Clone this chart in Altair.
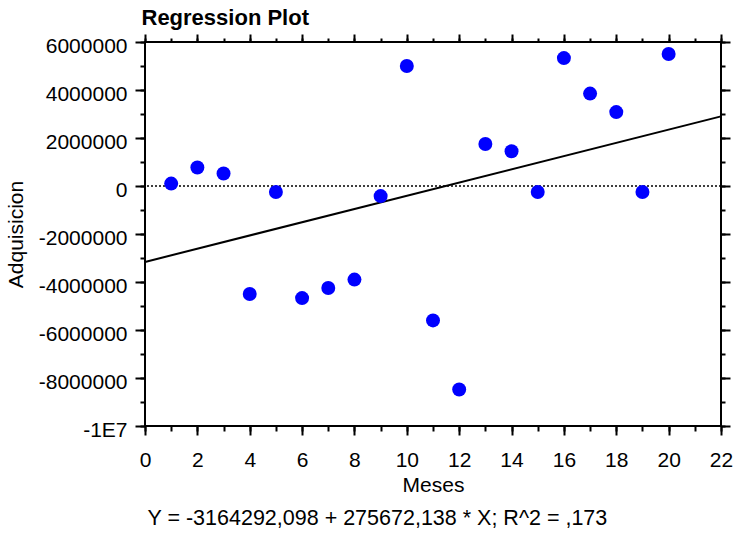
import altair as alt
import pandas as pd

# ---- data ----
meses = [1, 2, 3, 4, 5, 6, 7, 8, 9, 10, 11, 12, 13, 14, 15, 16, 17, 18, 19, 20]
adquisicion = [100000, 770000, 520000, -4500000, -250000, -4670000, -4250000,
               -3900000, -420000, 5000000, -5600000, -8480000, 1750000, 1450000,
               -250000, 5330000, 3850000, 3080000, -250000, 5500000]
intercept = -3164292.098
slope = 275672.138
x_range = [0, 22]
y_range = [-10000000, 6000000]
zero_line = [0]
x_major = [0, 2, 4, 6, 8, 10, 12, 14, 16, 18, 20, 22]
x_minor = [0, 1, 2, 3, 4, 5, 6, 7, 8, 9, 10, 11, 12, 13, 14, 15, 16, 17, 18, 19, 20, 21, 22]
y_major = [-10000000, -8000000, -6000000, -4000000, -2000000, 0, 2000000, 4000000, 6000000]
y_minor = [-10000000, -9000000, -8000000, -7000000, -6000000, -5000000, -4000000,
           -3000000, -2000000, -1000000, 0, 1000000, 2000000, 3000000, 4000000,
           5000000, 6000000]
title_text = "Regression Plot"
x_title = "Meses"
y_title = "Adquisicion"
eq_text = "Y = -3164292,098 + 275672,138 * X; R^2 = ,173"

pts = pd.DataFrame({"Meses": meses, "Adquisicion": adquisicion})
fit = pd.DataFrame({"Meses": x_range,
                    "Adquisicion": [intercept + slope * x for x in x_range]})
zdf = pd.DataFrame({"Adquisicion": zero_line})

FONT = "Liberation Sans"
xs = alt.Scale(domain=x_range, nice=False, zero=False)
ys = alt.Scale(domain=y_range, nice=False, zero=False)


def ax(orient, values, size, **kw):
    base = dict(orient=orient, values=values, tickSize=size, tickColor="black",
                tickWidth=2, domain=False, grid=False, labels=False, title=None,
                labelFont=FONT, titleFont=FONT, labelColor="black",
                titleColor="black", titleFontWeight="normal")
    base.update(kw)
    return alt.Axis(**base)


zero = alt.Chart(zdf).mark_rule(color="black", strokeWidth=1.5,
                                strokeDash=[2, 2]).encode(
    y=alt.Y("Adquisicion:Q", scale=ys, axis=None)
)

fit_line = alt.Chart(fit).mark_line(color="black", strokeWidth=2).encode(
    x=alt.X("Meses:Q", scale=xs,
            axis=ax("bottom", x_minor, 5, title=eq_text, titleFontSize=21.5,
                    titleX=2, titleY=98, titleAlign="left",
                    titleBaseline="alphabetic", titleAngle=0)),
    y=alt.Y("Adquisicion:Q", scale=ys, axis=ax("left", y_minor, 5)),
)

points = alt.Chart(pts).mark_circle(size=195, color="#0000FF", opacity=1).encode(
    x=alt.X("Meses:Q", scale=xs,
            axis=ax("bottom", x_major, 9, labels=True, labelFontSize=21,
                    labelPadding=14, labelFlush=False, labelOverlap=False,
                    labelExpr="'' + datum.value",
                    title=x_title, titleFontSize=21, titleX=288, titleY=65,
                    titleAlign="center", titleBaseline="alphabetic",
                    titleAngle=0)),
    y=alt.Y("Adquisicion:Q", scale=ys,
            axis=ax("left", y_major, 10, labels=True, labelFontSize=21,
                    labelPadding=8, labelOffset=4, labelBaseline="middle",
                    labelFlush=False, labelOverlap=False,
                    labelExpr="datum.value === -10000000 ? '-1E7' : '' + datum.value",
                    title=y_title, titleFontSize=21, titleAngle=270,
                    titleX=-122.5, titleY=192, titleAlign="center",
                    titleBaseline="alphabetic")),
)

top_major = alt.Chart(pts).mark_circle(opacity=0).encode(
    x=alt.X("Meses:Q", scale=xs,
            axis=ax("top", x_major, 8, title=title_text, titleFontSize=22,
                    titleFontWeight="bold", titleX=-4, titleY=-17.7,
                    titleAlign="left", titleBaseline="alphabetic",
                    titleAngle=0)),
    y=alt.Y("Adquisicion:Q", scale=ys, axis=ax("right", y_major, 9)),
)

top_minor = alt.Chart(pts).mark_circle(opacity=0).encode(
    x=alt.X("Meses:Q", scale=xs, axis=ax("top", x_minor, 4)),
    y=alt.Y("Adquisicion:Q", scale=ys, axis=ax("right", y_minor, 4)),
)

chart = alt.layer(zero, fit_line, points, top_major, top_minor).resolve_axis(
    x="independent", y="independent"
).properties(
    width=576, height=384,
    padding={"left": 145, "top": 42, "right": 15, "bottom": 107},
    autosize=alt.AutoSizeParams(type="none"),
    background="white",
).configure_view(stroke="black", strokeWidth=2)

chart.save("out.html", embed_options={"renderer": "svg", "actions": False})
